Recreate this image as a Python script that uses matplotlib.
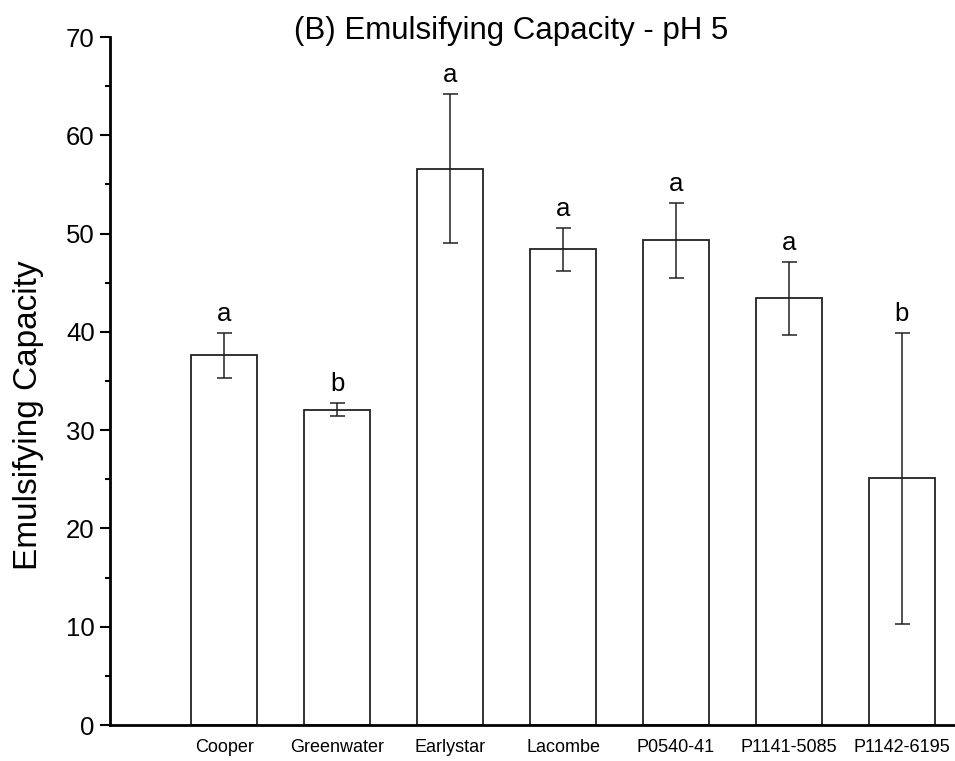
import matplotlib.pyplot as plt
import numpy as np

plt.rcParams['font.family'] = ['Liberation Sans', 'DejaVu Sans']

# emulsifying capacity at pH 5, mean and error per line
cultivars = ['Cooper', 'Greenwater', 'Earlystar', 'Lacombe', 'P0540-41', 'P1141-5085', 'P1142-6195']
capacity = [37.6, 32.1, 56.6, 48.4, 49.3, 43.4, 25.1]
errors = [2.3, 0.7, 7.6, 2.2, 3.8, 3.7, 14.8]
groups = ['a', 'b', 'a', 'a', 'a', 'a', 'b']

fig = plt.figure(figsize=(9.55, 7.61), dpi=100)
ax = fig.add_axes([0.1152, 0.0473, 0.8848, 0.904])

x = np.arange(len(cultivars))
ax.bar(x, capacity, width=0.59, color='white', edgecolor='#222222', linewidth=1.3,
       zorder=2)
ax.errorbar(x, capacity, yerr=errors, fmt='none', ecolor='#222222', elinewidth=1.1,
            capsize=5.4, capthick=1.1, zorder=3)

# significance letters above the error bars
for xi, v, e, g in zip(x, capacity, errors, groups):
    ax.annotate(g, (xi, v + e), xytext=(0, 5), textcoords='offset points',
                ha='center', va='bottom', fontsize=18.5)

ax.set_xlim(-1.01, 6.47)
ax.set_ylim(0, 70)
ax.set_yticks(np.arange(0, 71, 10))
ax.set_yticks(np.arange(5, 70, 10), minor=True)
ax.set_xticks(x)
ax.set_xticklabels(cultivars, fontsize=13)
ax.tick_params(axis='x', length=0, pad=10)
ax.tick_params(axis='y', which='major', length=7, width=1.5, labelsize=18.5, pad=4)
ax.tick_params(axis='y', which='minor', length=3.5, width=1.5)

for side in ['top', 'right']:
    ax.spines[side].set_visible(False)
for side in ['left', 'bottom']:
    ax.spines[side].set_linewidth(2)

fig.text(0.535, 0.959, '(B) Emulsifying Capacity - pH 5', ha='center', va='center',
         fontsize=22.5)
fig.text(0.030, 0.455, 'Emulsifying Capacity', ha='center', va='center',
         rotation=90, fontsize=24)

fig.savefig('out.png', dpi=100)
